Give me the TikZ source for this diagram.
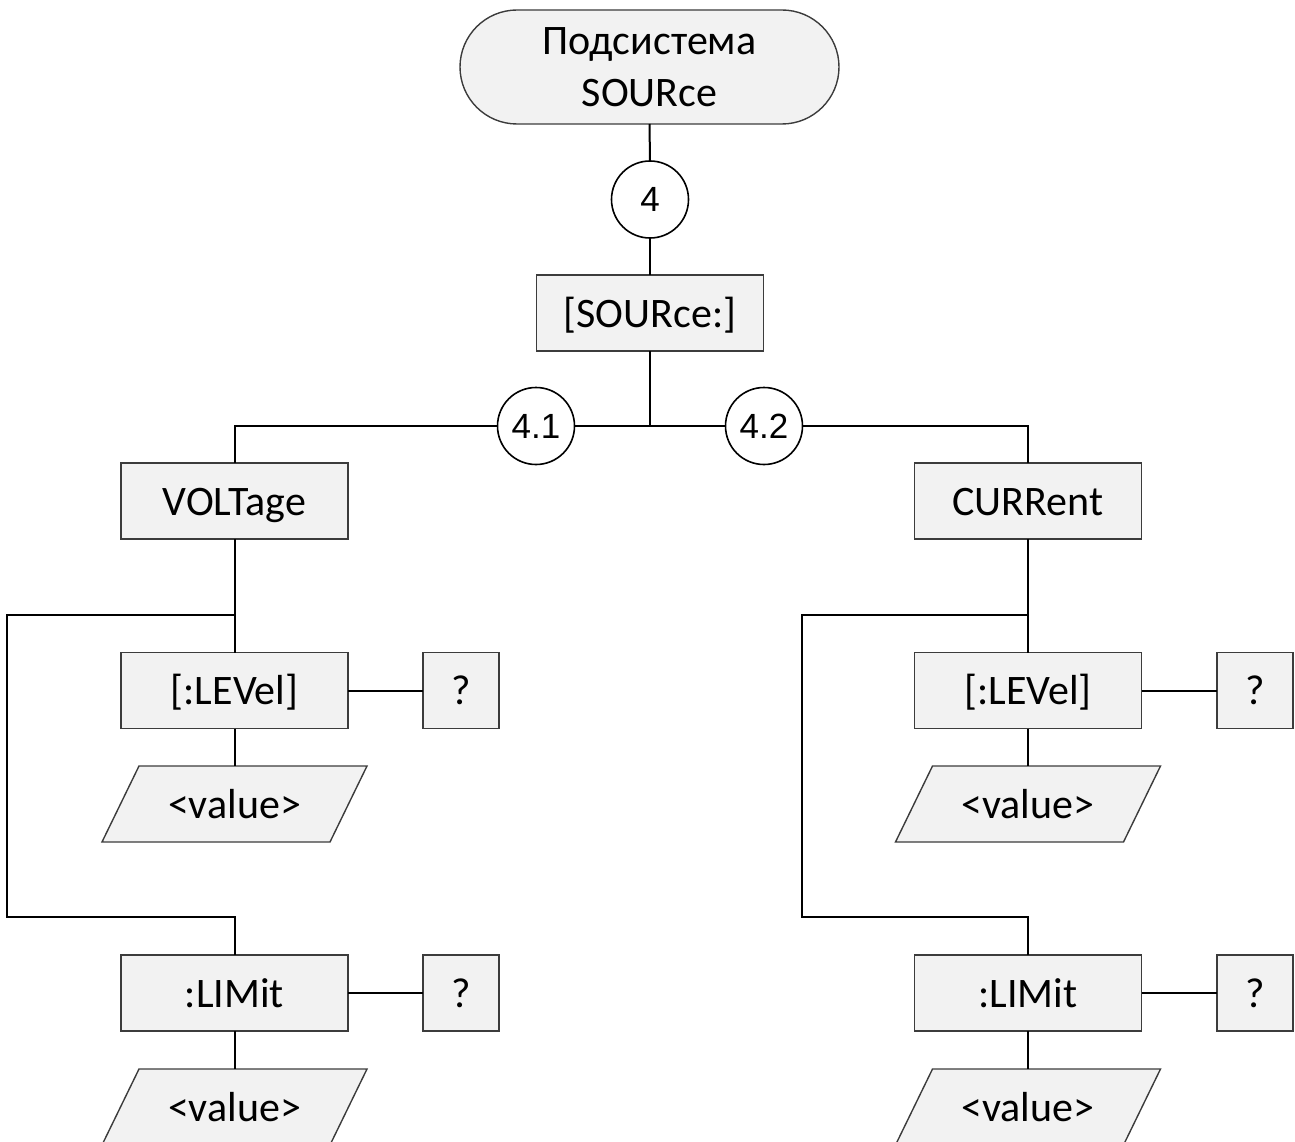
\documentclass[tikz,border=0pt]{standalone}
\usepackage{fontspec}
\setmainfont{Carlito}
\newfontfamily\numfont{Liberation Sans}
\usetikzlibrary{shapes.misc,backgrounds}
\definecolor{boxfill}{HTML}{F2F2F2}
\definecolor{boxline}{HTML}{3C3C3C}
\begin{document}
\begin{tikzpicture}[x=1pt,y=-1pt,
  every node/.style={inner sep=0pt, outer sep=0pt},
  boxtext/.style={font=\fontsize{42}{52}\selectfont, text height=30pt, text depth=2pt},
  cmd/.style={rectangle, draw=boxline, fill=boxfill, line width=1.4pt,
    minimum width=227pt, minimum height=76pt, boxtext},
  qbox/.style={cmd, minimum width=76pt},
  % text holder of a slanted data box; its outline is drawn behind it
  val/.style={rectangle, minimum width=191pt, minimum height=76pt, boxtext},
  slant/.style={draw=boxline, fill=boxfill, line width=1.4pt, line join=miter},
  term/.style={rounded rectangle, draw=boxline, fill=boxfill, line width=1.4pt,
    minimum width=379pt, minimum height=114pt, align=center,
    font=\fontsize{42}{52}\selectfont},
  num/.style={circle, draw=black, fill=white, line width=1.6pt, minimum size=77pt,
    font=\numfont\fontsize{35}{40}\selectfont},
  link/.style={draw=black, line width=2pt}]

\useasboundingbox (0,0) rectangle (1295,1142);

% subsystem header
\node[term] (top) at (649.5,67) {Подсистема\\SOURce};
\node[num] (n4) at (650,199.5) {4};
\node[cmd] (src) at (650,313) {[SOURce:]};
\coordinate (split) at (650,426);
\node[num] (n41) at (536,426) {4.1};
\node[num] (n42) at (764,426) {4.2};

% voltage branch
\node[cmd] (volt) at (234.5,501) {VOLTage};
\node[cmd] (lvlL) at (234.5,690.5) {[:LEVel]};
\node[qbox] (qL1) at (461,690.5) {?};
\node[val] (valL1) at (234.5,804) {<value>};
\node[cmd] (limL) at (234.5,993) {:LIMit};
\node[qbox] (qL2) at (461,993) {?};
\node[val] (valL2) at (234.5,1107) {<value>};
\coordinate (forkL) at (234.5,615);
\coordinate (cornL1) at (7,615);
\coordinate (cornL2) at (7,917);

% current branch
\node[cmd] (curr) at (1028,501) {CURRent};
\node[cmd] (lvlR) at (1028,690.5) {[:LEVel]};
\node[qbox] (qR1) at (1255,690.5) {?};
\node[val] (valR1) at (1028,804) {<value>};
\node[cmd] (limR) at (1028,993) {:LIMit};
\node[qbox] (qR2) at (1255,993) {?};
\node[val] (valR2) at (1028,1107) {<value>};
\coordinate (forkR) at (1028,615);
\coordinate (cornR1) at (802,615);
\coordinate (cornR2) at (802,917);

% slanted outlines of the value boxes
\begin{scope}[on background layer]
  \foreach \v in {valL1,valL2,valR1,valR2}
    \draw[slant] (\v.north west) -- ([xshift=37pt]\v.north east)
      -- (\v.south east) -- ([xshift=-37pt]\v.south west) -- cycle;
\end{scope}

% connectors
\draw[link] (top.south) -- (n4.north);
\draw[link] (n4.south) -- (src.north);
\draw[link] (src.south) -- (split);
\draw[link] (n41.east) -- (n42.west);
\draw[link] (n41.west) -| (volt.north);
\draw[link] (n42.east) -| (curr.north);

\draw[link] (volt.south) -- (lvlL.north);
\draw[link] (forkL) -- (cornL1) -- (cornL2) -| (limL.north);
\draw[link] (lvlL.east) -- (qL1.west);
\draw[link] (lvlL.south) -- (valL1.north);
\draw[link] (limL.east) -- (qL2.west);
\draw[link] (limL.south) -- (valL2.north);

\draw[link] (curr.south) -- (lvlR.north);
\draw[link] (forkR) -- (cornR1) -- (cornR2) -| (limR.north);
\draw[link] (lvlR.east) -- (qR1.west);
\draw[link] (lvlR.south) -- (valR1.north);
\draw[link] (limR.east) -- (qR2.west);
\draw[link] (limR.south) -- (valR2.north);
\end{tikzpicture}
\end{document}
